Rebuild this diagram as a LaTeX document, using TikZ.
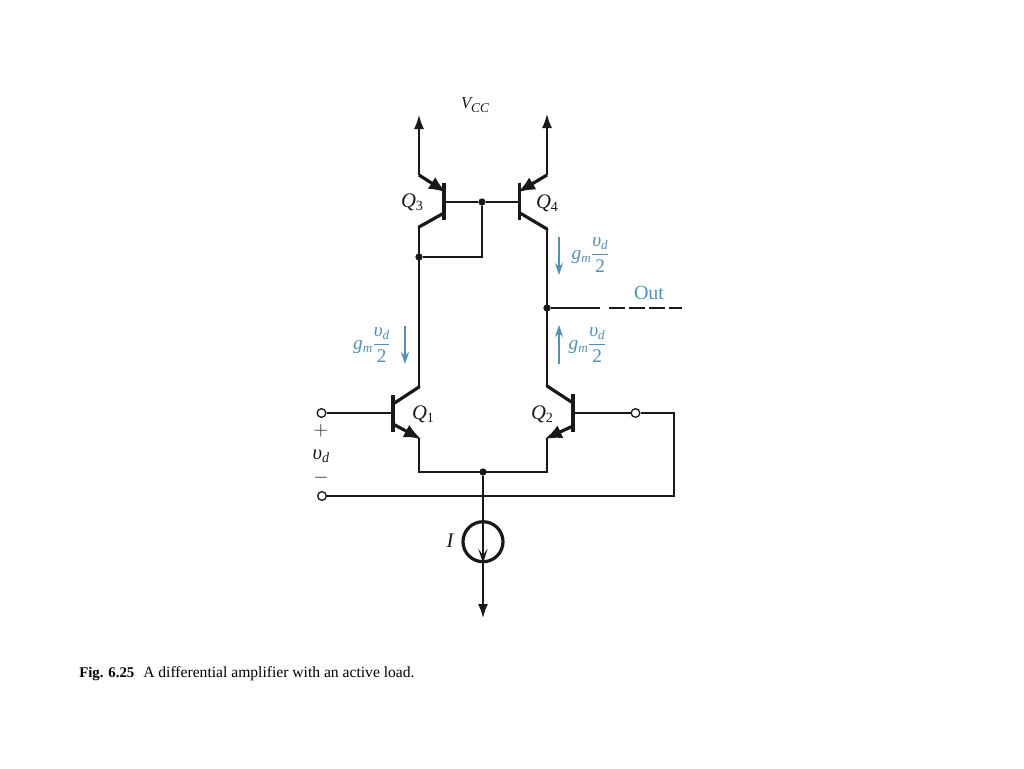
\documentclass[tikz,border=0pt]{standalone}
\usepackage{fontspec}
\setmainfont{Liberation Serif}
\usetikzlibrary{arrows.meta}
\definecolor{blu}{RGB}{84,144,182}
\definecolor{ink}{RGB}{25,25,25}
\newcommand{\sbs}[1]{\raisebox{-.32ex}{\scalebox{.68}{#1}}}
\newcommand{\vdlabel}{{\itshape υ}\sbs{\itshape d}}
\newcommand{\gfrac}{\mbox{\itshape g}\sbs{\itshape m}$\displaystyle\frac{\mbox{\vdlabel}}{\mbox{2}}$}
\newcommand{\qlab}[1]{{\itshape Q}\sbs{#1}}
\tikzset{
  wire/.style={draw=ink,line width=1.15pt},
  heavy/.style={draw=ink,line width=2.4pt},
  bar/.style={draw=ink,line width=2.8pt},
  emit/.style={draw=ink,line width=2.4pt,-{Latex[length=13pt,width=10.5pt]},shorten >=-2pt},
  supply/.style={draw=ink,line width=1.15pt,-{Latex[length=10.5pt,width=7.5pt]}},
  jdot/.style={circle,fill=ink,inner sep=0pt,minimum size=5.5pt},
  term/.style={circle,draw=ink,fill=white,line width=1pt,inner sep=0pt,minimum size=6.5pt},
  lab/.style={text=ink,inner sep=0pt,font=\fontsize{15.5}{17}\selectfont},
  bluelab/.style={text=blu,inner sep=0pt,font=\fontsize{14.5}{16}\selectfont},
  cur/.style={draw=blu,line width=1.1pt,-{Stealth[length=9pt,width=6pt,inset=3pt]}},
}
\begin{document}
\begin{tikzpicture}[x=0.75pt,y=-0.75pt]
\useasboundingbox[fill=white] (0,0) rectangle (1024,768);
% coordinates
\coordinate (vl) at (419,115); \coordinate (vr) at (547,114);
\coordinate (e3) at (419,175); \coordinate (e3b) at (444,191);
\coordinate (e4) at (547,175); \coordinate (e4b) at (520,191);
\coordinate (c3b) at (444,213); \coordinate (c3) at (419,227);
\coordinate (c4b) at (520,213); \coordinate (c4) at (547,229);
\coordinate (c1) at (419,387); \coordinate (c1b) at (393,404);
\coordinate (c2) at (547,386); \coordinate (c2b) at (573,403);
\coordinate (e1b) at (393,424); \coordinate (e1) at (419,438);
\coordinate (e2b) at (573,426); \coordinate (e2) at (547,438);
\coordinate (b1) at (393,413); \coordinate (b2) at (573,413);
\coordinate (b3) at (444,202); \coordinate (b4) at (519,202);
\coordinate (bl) at (419,472); \coordinate (br) at (547,472);
\coordinate (rc) at (674,413); \coordinate (rd) at (674,496);
\coordinate (outa) at (600,308); \coordinate (drop) at (482,257);
\coordinate (sink) at (483,618);
\node[jdot] (jb) at (482,202) {};
\node[jdot] (jc) at (419,257) {};
\node[jdot] (jo) at (547,308) {};
\node[jdot] (je) at (483,472) {};
\node[term] (t1) at (321.5,413) {};
\node[term] (t2) at (322,496) {};
\node[term] (t3) at (635.5,413) {};
\node[circle,draw=ink,line width=2.4pt,inner sep=0pt,minimum size=30pt] (src) at (483,541.7) {};
% wires
\draw[supply] (e3) -- (vl);
\draw[supply] (e4) -- (vr);
\draw[wire] (b3) -- (jb) -- (b4);
\draw[wire] (jb) -- (drop) -- (jc);
\draw[wire] (c3) -- (c1);
\draw[wire] (c4) -- (c2);
\draw[wire] (jo) -- (outa);
\draw[wire,dash pattern=on 11.5pt off 3.5pt] ([xshift=7pt]outa) -- (682,308);
\draw[wire] (t1) -- (b1);
\draw[wire] (b2) -- (t3) -- (rc) -- (rd) -- (t2);
\draw[wire] (e1) -- (bl) -- (br) -- (e2);
\draw[wire] (je) -- (src);
\draw[supply] (src) -- (sink);
\draw[draw=ink,line width=1.1pt,-{Stealth[length=11pt,width=7pt,inset=5pt]}] (src.north) -- (src.south);
% transistors
\draw[bar] (444,183) -- (444,220);
\draw[bar] (519.5,183) -- (519.5,220);
\draw[bar] (393,395) -- (393,432);
\draw[bar] (573,394) -- (573,432);
\draw[emit] (e3) -- (e3b);
\draw[emit] (e4) -- (e4b);
\draw[emit] (e1b) -- (e1);
\draw[emit] (e2b) -- (e2);
\draw[heavy,line cap=round] (c3b) -- (c3);
\draw[heavy,line cap=round] (c4b) -- (c4);
\draw[heavy,line cap=round] (c1b) -- (c1);
\draw[heavy,line cap=round] (c2b) -- (c2);
% labels
\node[lab,font=\fontsize{12.5}{15}\selectfont] (vcc) at (475,105) {{\itshape V}\raisebox{-.5ex}{\scalebox{.8}{\itshape CC}}};
\node[lab] (q3) at (412,202) {\qlab{3}};
\node[lab] (q4) at (547,203) {\qlab{4}};
\node[lab] (q1) at (423,414) {\qlab{1}};
\node[lab] (q2) at (542,414) {\qlab{2}};
\node[lab] (plus) at (321,431) {$+$};
\node[lab] (vd) at (321,456) {\vdlabel};
\node[lab] (minus) at (321,478) {$-$};
\node[lab] (il) at (450,541) {\itshape I};
\node[bluelab] (gl) at (372,345) {\gfrac};
\node[bluelab] (gr1) at (590.5,255) {\gfrac};
\node[bluelab] (gr2) at (587.5,345) {\gfrac};
\node[bluelab,font=\fontsize{15}{17}\selectfont] (out) at (649,293) {Out};
\coordinate (a1) at (405,326); \coordinate (a1e) at (405,364);
\coordinate (a2) at (559,237); \coordinate (a2e) at (559,275);
\coordinate (a3) at (559,364); \coordinate (a3e) at (559,325);
\draw[cur] (a1) -- (a1e);
\draw[cur] (a2) -- (a2e);
\draw[cur] (a3) -- (a3e);
\node[anchor=base west,inner sep=0pt,text=black,font=\fontsize{11.1}{13}\selectfont] (cap) at (79,677) {\textbf{Fig. 6.25}};
\node[anchor=base west,inner sep=0pt,text=black,font=\fontsize{11.7}{13}\selectfont] (capb) at (143,677) {A differential amplifier with an active load.};
\end{tikzpicture}
\end{document}
